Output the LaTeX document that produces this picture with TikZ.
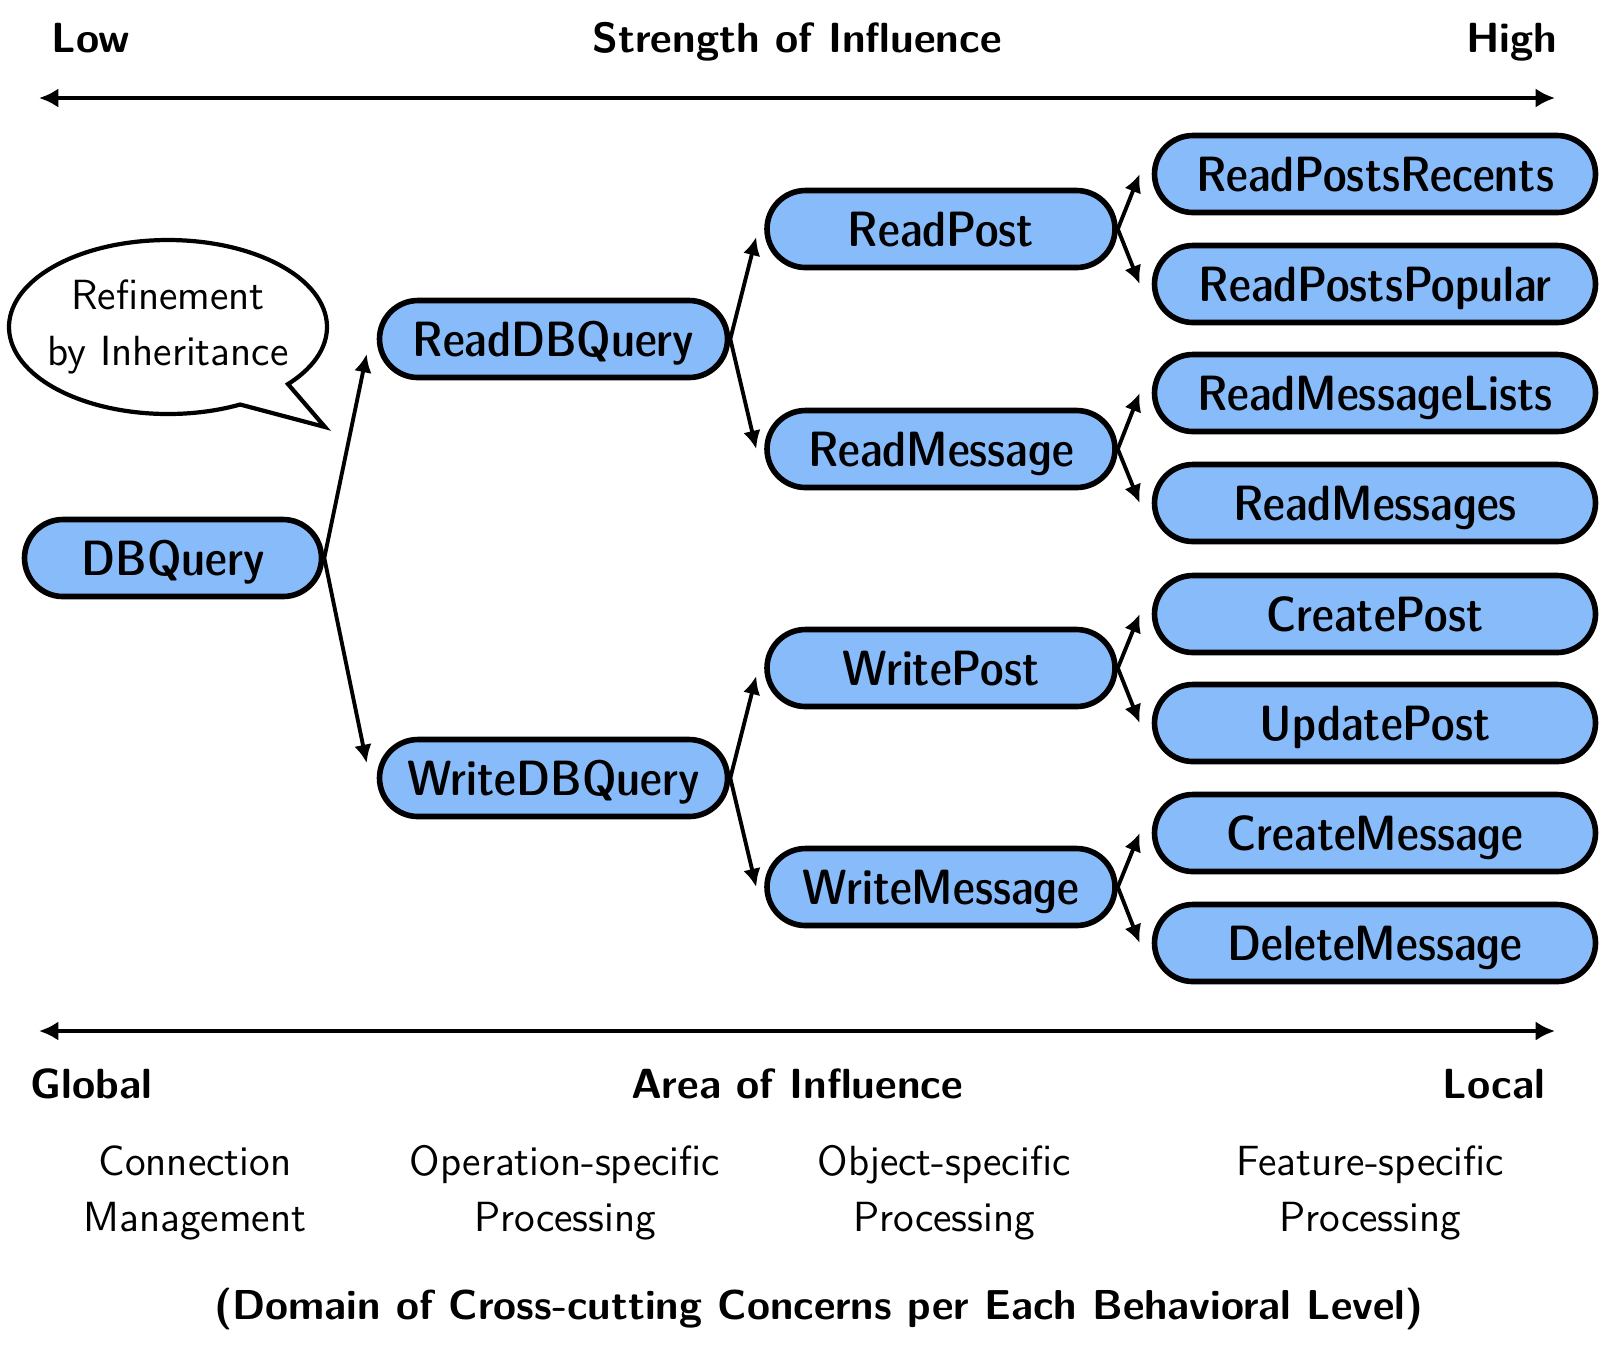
\documentclass[tikz,border=0pt]{standalone}
\usetikzlibrary{shapes.misc,arrows.meta}
\definecolor{boxblue}{RGB}{136,187,250}

\begin{document}
\begin{tikzpicture}[x=0.1cm,y=-0.1cm,
	behav/.style={rounded rectangle,draw,line width=1.6pt,fill=boxblue,
		minimum height=0.77cm,inner sep=0pt,text height=9.7pt,text depth=0pt,
		font={\sffamily\fontseries{sbc}\fontsize{14.1}{17}\selectfont}},
	mid/.style={behav,minimum width=3.48cm},
	leaf/.style={behav,minimum width=4.41cm},
	head/.style={inner sep=0pt,font=\sffamily\bfseries\large},
	level/.style={align=center,inner sep=0pt,font={\sffamily\fontsize{12}{16}\selectfont}},
	link/.style={line width=1.1pt,-{Latex[length=5.2pt,width=5pt]}},
	axis/.style={line width=1.2pt,{Latex[length=5.5pt,width=5.5pt]}-{Latex[length=5.5pt,width=5.5pt]}}]
	%frame
	\useasboundingbox (0,0) rectangle (161.2,134.9);

	%strength axis and labels
	\coordinate (sl) at (3.9,9.8);
	\coordinate (sr) at (155.5,9.8);
	\draw[axis] (sl) -- (sr); %strength arrow
	\node[head,anchor=base west] (low) at (5.1,5.2) {Low};
	\node[head,anchor=base] (strength) at (79.7,5.2) {Strength of Influence};
	\node[head,anchor=base east] (high) at (155.8,5.2) {High};

	%behavioral levels
	\node[behav,minimum width=2.97cm] (dbq) at (17.3,55.8) {DBQuery};
	\node[mid] (rdbq) at (55.35,33.9) {ReadDBQuery};
	\node[mid] (wdbq) at (55.35,77.8) {WriteDBQuery};
	\node[mid] (rpost) at (94.1,22.9) {ReadPost};
	\node[mid] (rmsg) at (94.1,44.9) {ReadMessage};
	\node[mid] (wpost) at (94.1,66.8) {WritePost};
	\node[mid] (wmsg) at (94.1,88.7) {WriteMessage};

	%features
	\node[leaf] (rprec) at (137.5,17.4) {ReadPostsRecents};
	\node[leaf] (rppop) at (137.5,28.4) {ReadPostsPopular};
	\node[leaf] (rmlist) at (137.5,39.3) {ReadMessageLists};
	\node[leaf] (rmsgs) at (137.5,50.3) {ReadMessages};
	\node[leaf] (cpost) at (137.5,61.4) {CreatePost};
	\node[leaf] (upost) at (137.5,72.3) {UpdatePost};
	\node[leaf] (cmsg) at (137.5,83.3) {CreateMessage};
	\node[leaf] (dmsg) at (137.5,94.3) {DeleteMessage};

	%inheritance arrows
	\draw[link] (dbq.east) -- ([xshift=-1mm,yshift=-1.5mm]rdbq.west);
	\draw[link] (dbq.east) -- ([xshift=-1mm,yshift=1.5mm]wdbq.west);
	\draw[link] (rdbq.east) -- ([xshift=-0.8mm,yshift=-0.8mm]rpost.west);
	\draw[link] (rdbq.east) -- ([xshift=-0.8mm]rmsg.west);
	\draw[link] (wdbq.east) -- ([xshift=-0.8mm,yshift=-0.8mm]wpost.west);
	\draw[link] (wdbq.east) -- ([xshift=-0.8mm]wmsg.west);
	\draw[link] (rpost.east) -- ([xshift=-1.2mm]rprec.west);
	\draw[link] (rpost.east) -- ([xshift=-1.2mm]rppop.west);
	\draw[link] (rmsg.east) -- ([xshift=-1.2mm]rmlist.west);
	\draw[link] (rmsg.east) -- ([xshift=-1.2mm]rmsgs.west);
	\draw[link] (wpost.east) -- ([xshift=-1.2mm]cpost.west);
	\draw[link] (wpost.east) -- ([xshift=-1.2mm]upost.west);
	\draw[link] (wmsg.east) -- ([xshift=-1.2mm]cmsg.west);
	\draw[link] (wmsg.east) -- ([xshift=-1.2mm]dmsg.west);

	%speech bubble
	\node[level] (refine) at (16.8,32.7) {Refinement\\by Inheritance};
	\coordinate (tail) at (32.5,42.7);
	\draw[line width=1.2pt] (refine.center) ++(-41:1.59cm and 0.87cm)
		arc[start angle=-41,end angle=297,x radius=1.59cm,y radius=0.87cm]
		-- (tail) -- cycle; %bubble with tail

	%area axis and labels
	\coordinate (al) at (3.9,103.1);
	\coordinate (ar) at (155.5,103.1);
	\draw[axis] (al) -- (ar); %area arrow
	\node[head,anchor=base west] (global) at (3.0,109.8) {Global};
	\node[head,anchor=base] (area) at (79.7,109.8) {Area of Influence};
	\node[head,anchor=base east] (local) at (154.6,109.8) {Local};

	%domains
	\node[level] (conn) at (19.5,119.3) {Connection\\Management};
	\node[level] (oper) at (56.5,119.3) {Operation-specific\\Processing};
	\node[level] (obj) at (94.4,119.3) {Object-specific\\Processing};
	\node[level] (feat) at (137.0,119.3) {Feature-specific\\Processing};
	\node[head,anchor=base,font={\sffamily\bfseries\fontsize{11.9}{14}\selectfont}] (domain) at (81.9,131.9) {(Domain of Cross-cutting Concerns per Each Behavioral Level)};
\end{tikzpicture}
\end{document}
